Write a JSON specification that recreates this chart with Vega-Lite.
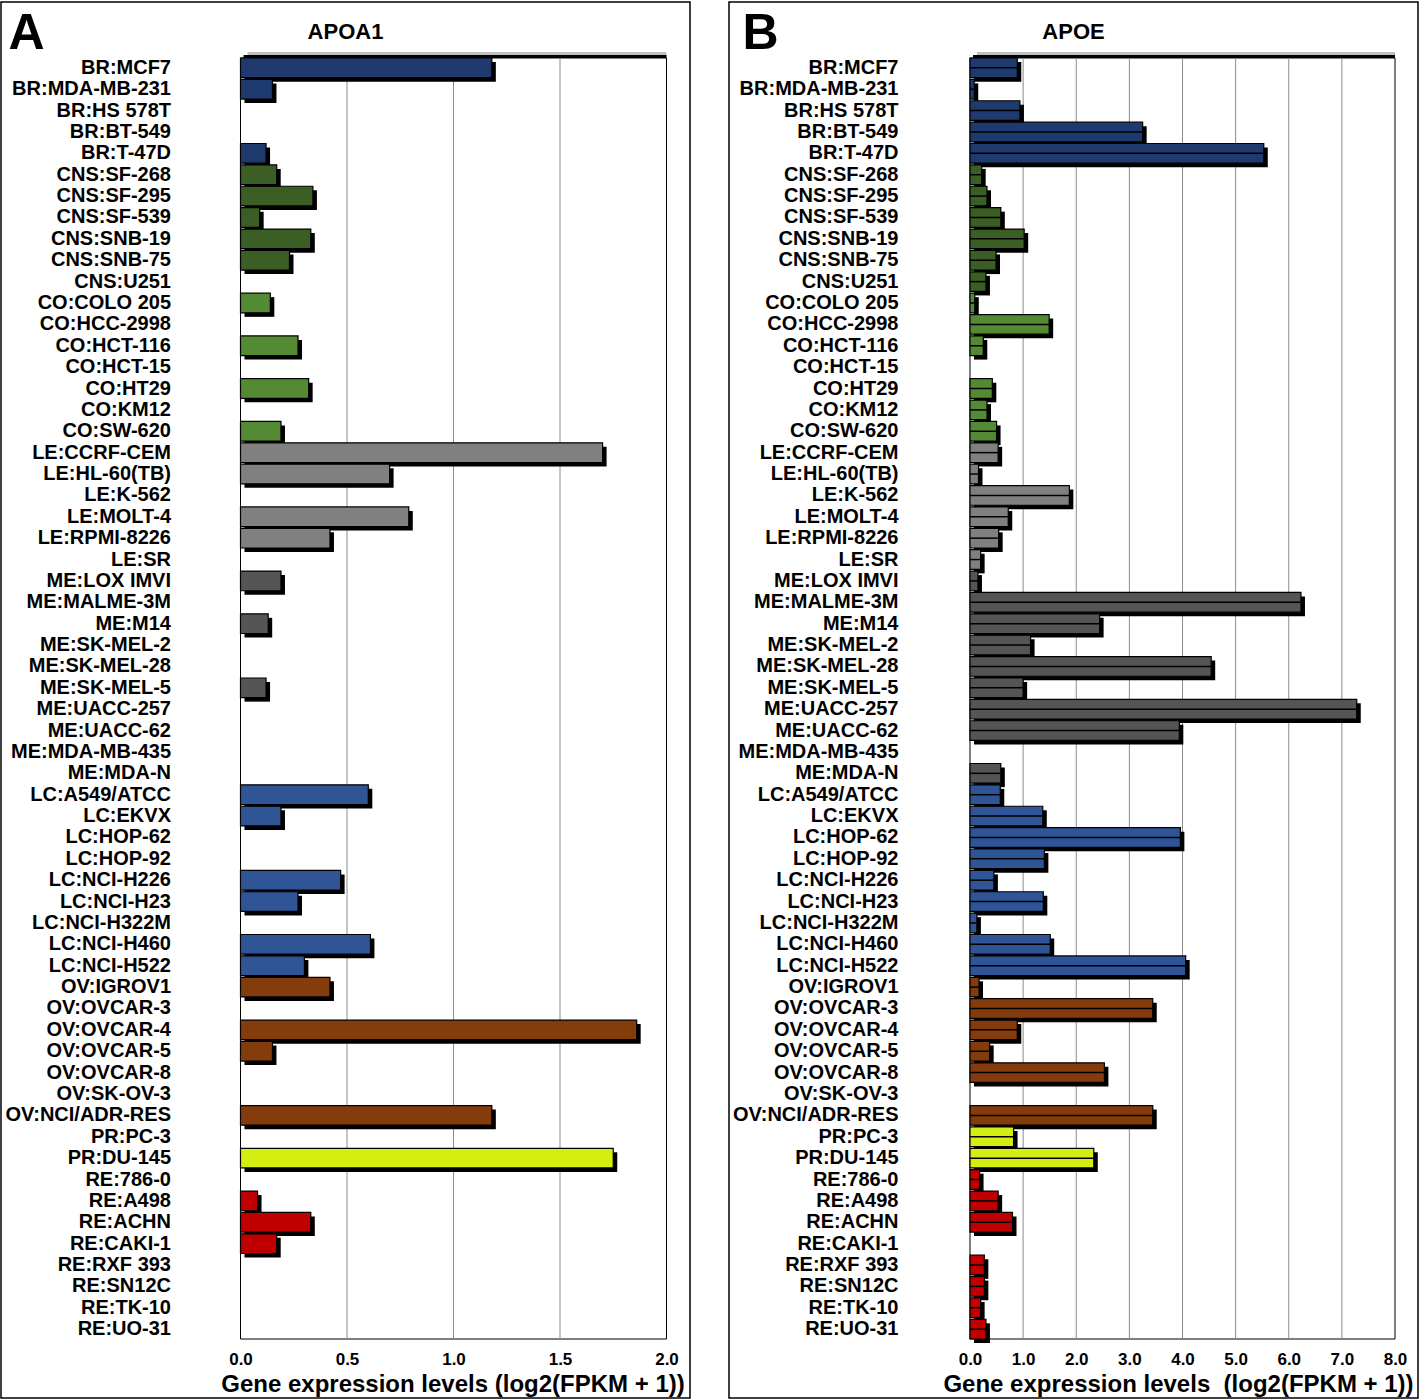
{
  "$schema": "https://vega.github.io/schema/vega-lite/v6.json",
  "background": "white",
  "padding": {"left": 0, "top": 1, "right": 0, "bottom": 0},
  "autosize": {"type": "pad"},
  "spacing": 37,
  "config": {
    "font": "Liberation Sans",
    "view": {"stroke": "#000", "strokeWidth": 1.5}
  },
  "datasets": {
    "cells": [
      {"name": "BR:MCF7", "group": "BR", "apoa1": 1.18, "apoe": 0.89},
      {"name": "BR:MDA-MB-231", "group": "BR", "apoa1": 0.15, "apoe": 0.08},
      {"name": "BR:HS 578T", "group": "BR", "apoa1": 0, "apoe": 0.94},
      {"name": "BR:BT-549", "group": "BR", "apoa1": 0, "apoe": 3.25},
      {"name": "BR:T-47D", "group": "BR", "apoa1": 0.12, "apoe": 5.53},
      {"name": "CNS:SF-268", "group": "CNS", "apoa1": 0.17, "apoe": 0.22},
      {"name": "CNS:SF-295", "group": "CNS", "apoa1": 0.34, "apoe": 0.32},
      {"name": "CNS:SF-539", "group": "CNS", "apoa1": 0.09, "apoe": 0.58},
      {"name": "CNS:SNB-19", "group": "CNS", "apoa1": 0.33, "apoe": 1.02},
      {"name": "CNS:SNB-75", "group": "CNS", "apoa1": 0.23, "apoe": 0.49},
      {"name": "CNS:U251", "group": "CNS", "apoa1": 0, "apoe": 0.30},
      {"name": "CO:COLO 205", "group": "CO", "apoa1": 0.14, "apoe": 0.09},
      {"name": "CO:HCC-2998", "group": "CO", "apoa1": 0, "apoe": 1.49},
      {"name": "CO:HCT-116", "group": "CO", "apoa1": 0.27, "apoe": 0.25},
      {"name": "CO:HCT-15", "group": "CO", "apoa1": 0, "apoe": 0},
      {"name": "CO:HT29", "group": "CO", "apoa1": 0.32, "apoe": 0.42},
      {"name": "CO:KM12", "group": "CO", "apoa1": 0, "apoe": 0.32},
      {"name": "CO:SW-620", "group": "CO", "apoa1": 0.19, "apoe": 0.50},
      {"name": "LE:CCRF-CEM", "group": "LE", "apoa1": 1.70, "apoe": 0.53},
      {"name": "LE:HL-60(TB)", "group": "LE", "apoa1": 0.70, "apoe": 0.16},
      {"name": "LE:K-562", "group": "LE", "apoa1": 0, "apoe": 1.87},
      {"name": "LE:MOLT-4", "group": "LE", "apoa1": 0.79, "apoe": 0.72},
      {"name": "LE:RPMI-8226", "group": "LE", "apoa1": 0.42, "apoe": 0.54},
      {"name": "LE:SR", "group": "LE", "apoa1": 0, "apoe": 0.20},
      {"name": "ME:LOX IMVI", "group": "ME", "apoa1": 0.19, "apoe": 0.15},
      {"name": "ME:MALME-3M", "group": "ME", "apoa1": 0, "apoe": 6.23},
      {"name": "ME:M14", "group": "ME", "apoa1": 0.13, "apoe": 2.44},
      {"name": "ME:SK-MEL-2", "group": "ME", "apoa1": 0, "apoe": 1.14},
      {"name": "ME:SK-MEL-28", "group": "ME", "apoa1": 0, "apoe": 4.54},
      {"name": "ME:SK-MEL-5", "group": "ME", "apoa1": 0.12, "apoe": 1.00},
      {"name": "ME:UACC-257", "group": "ME", "apoa1": 0, "apoe": 7.28},
      {"name": "ME:UACC-62", "group": "ME", "apoa1": 0, "apoe": 3.94},
      {"name": "ME:MDA-MB-435", "group": "ME", "apoa1": 0, "apoe": 0},
      {"name": "ME:MDA-N", "group": "ME", "apoa1": 0, "apoe": 0.58},
      {"name": "LC:A549/ATCC", "group": "LC", "apoa1": 0.60, "apoe": 0.57},
      {"name": "LC:EKVX", "group": "LC", "apoa1": 0.19, "apoe": 1.37},
      {"name": "LC:HOP-62", "group": "LC", "apoa1": 0, "apoe": 3.96},
      {"name": "LC:HOP-92", "group": "LC", "apoa1": 0, "apoe": 1.40},
      {"name": "LC:NCI-H226", "group": "LC", "apoa1": 0.47, "apoe": 0.45},
      {"name": "LC:NCI-H23", "group": "LC", "apoa1": 0.27, "apoe": 1.38},
      {"name": "LC:NCI-H322M", "group": "LC", "apoa1": 0, "apoe": 0.13},
      {"name": "LC:NCI-H460", "group": "LC", "apoa1": 0.61, "apoe": 1.51},
      {"name": "LC:NCI-H522", "group": "LC", "apoa1": 0.30, "apoe": 4.06},
      {"name": "OV:IGROV1", "group": "OV", "apoa1": 0.42, "apoe": 0.17},
      {"name": "OV:OVCAR-3", "group": "OV", "apoa1": 0, "apoe": 3.44},
      {"name": "OV:OVCAR-4", "group": "OV", "apoa1": 1.86, "apoe": 0.89},
      {"name": "OV:OVCAR-5", "group": "OV", "apoa1": 0.15, "apoe": 0.37},
      {"name": "OV:OVCAR-8", "group": "OV", "apoa1": 0, "apoe": 2.53},
      {"name": "OV:SK-OV-3", "group": "OV", "apoa1": 0, "apoe": 0},
      {"name": "OV:NCI/ADR-RES", "group": "OV", "apoa1": 1.18, "apoe": 3.44},
      {"name": "PR:PC-3", "group": "PR", "apoa1": 0, "apoe": 0.82},
      {"name": "PR:DU-145", "group": "PR", "apoa1": 1.75, "apoe": 2.33},
      {"name": "RE:786-0", "group": "RE", "apoa1": 0, "apoe": 0.18},
      {"name": "RE:A498", "group": "RE", "apoa1": 0.08, "apoe": 0.53},
      {"name": "RE:ACHN", "group": "RE", "apoa1": 0.33, "apoe": 0.80},
      {"name": "RE:CAKI-1", "group": "RE", "apoa1": 0.17, "apoe": 0},
      {"name": "RE:RXF 393", "group": "RE", "apoa1": 0, "apoe": 0.27},
      {"name": "RE:SN12C", "group": "RE", "apoa1": 0, "apoe": 0.27},
      {"name": "RE:TK-10", "group": "RE", "apoa1": 0, "apoe": 0.20},
      {"name": "RE:UO-31", "group": "RE", "apoa1": 0, "apoe": 0.30}
    ]
  },
  "hconcat": [
    {
      "width": 689,
      "height": 1396,
      "title": {"text": "APOA1", "fontSize": 22, "fontWeight": "bold", "color": "#000", "anchor": "middle", "frame": "group", "baseline": "alphabetic", "offset": -59},
      "resolve": {"scale": {"y": "independent"}, "axis": {"y": "independent"}},
      "layer": [
        {
          "layer": [
            {
              "data": {"values": [{"lo": 0, "hi": 2, "top": 0, "bottom": 1}]},
              "mark": {"type": "rect", "fill": "#000", "opacity": 0.25, "xOffset": 7, "yOffset": -6},
              "encoding": {
                "x": {"field": "lo", "type": "quantitative"},
                "x2": {"field": "hi"},
                "y": {"field": "top", "type": "quantitative", "scale": {"domain": [0, 1], "range": [56, 1337], "nice": false, "zero": false}, "axis": null},
                "y2": {"field": "bottom"}
              }
            },
            {
              "data": {"values": [{"lo": 0, "hi": 2, "top": 0, "bottom": 1}]},
              "mark": {"type": "rect", "fill": "#000", "xOffset": 3, "yOffset": -3},
              "encoding": {
                "x": {"field": "lo", "type": "quantitative"},
                "x2": {"field": "hi"},
                "y": {"field": "top", "type": "quantitative", "axis": null},
                "y2": {"field": "bottom"}
              }
            },
            {
              "data": {"values": [{"lo": 0, "hi": 2, "top": 0, "bottom": 1}]},
              "mark": {"type": "rect", "fill": "#fff", "stroke": "#000", "strokeWidth": 1},
              "encoding": {
                "x": {"field": "lo", "type": "quantitative"},
                "x2": {"field": "hi"},
                "y": {"field": "top", "type": "quantitative", "axis": null},
                "y2": {"field": "bottom"}
              }
            },
            {
              "data": {"values": [{"g": 0.5, "top": 0, "bottom": 1}, {"g": 1.0, "top": 0, "bottom": 1}, {"g": 1.5, "top": 0, "bottom": 1}]},
              "mark": {"type": "rule", "stroke": "#8c8c8c", "strokeWidth": 1},
              "encoding": {
                "x": {"field": "g", "type": "quantitative"},
                "y": {"field": "top", "type": "quantitative", "axis": null},
                "y2": {"field": "bottom"}
              }
            }
          ]
        },
        {
          "data": {"name": "cells"},
          "transform": [{"filter": "datum.apoa1 > 0"}],
          "layer": [
            {
              "mark": {"type": "bar", "fill": "#000", "xOffset": 4, "yOffset": 4},
              "encoding": {
                "x": {"field": "apoa1", "type": "quantitative"},
                "y": {"field": "name", "type": "nominal"}
              }
            },
            {
              "mark": {"type": "bar", "stroke": "#000", "strokeWidth": 1.2},
              "encoding": {
                "x": {
                  "field": "apoa1", "type": "quantitative",
                  "scale": {"domain": [0, 2], "range": [239.5, 665.5], "nice": false, "zero": false},
                  "axis": {"orient": "bottom", "offset": -59, "zindex": 2, "domain": false, "ticks": false, "tickSize": 0, "grid": false, "values": [0, 0.5, 1, 1.5, 2], "format": ".1f", "labelPadding": 12, "labelFontSize": 17, "labelFontWeight": "bold", "labelColor": "#000", "labelFlush": false, "labelOverlap": false, "title": "Gene expression levels (log2(FPKM + 1))", "titleFontSize": 24, "titleFontWeight": "bold", "titleColor": "#000", "titleAlign": "center", "titleBaseline": "alphabetic", "titleX": 451.5, "titleY": 52}
                },
                "y": {
                  "field": "name", "type": "nominal",
                  "scale": {"domain": ["BR:MCF7","BR:MDA-MB-231","BR:HS 578T","BR:BT-549","BR:T-47D","CNS:SF-268","CNS:SF-295","CNS:SF-539","CNS:SNB-19","CNS:SNB-75","CNS:U251","CO:COLO 205","CO:HCC-2998","CO:HCT-116","CO:HCT-15","CO:HT29","CO:KM12","CO:SW-620","LE:CCRF-CEM","LE:HL-60(TB)","LE:K-562","LE:MOLT-4","LE:RPMI-8226","LE:SR","ME:LOX IMVI","ME:MALME-3M","ME:M14","ME:SK-MEL-2","ME:SK-MEL-28","ME:SK-MEL-5","ME:UACC-257","ME:UACC-62","ME:MDA-MB-435","ME:MDA-N","LC:A549/ATCC","LC:EKVX","LC:HOP-62","LC:HOP-92","LC:NCI-H226","LC:NCI-H23","LC:NCI-H322M","LC:NCI-H460","LC:NCI-H522","OV:IGROV1","OV:OVCAR-3","OV:OVCAR-4","OV:OVCAR-5","OV:OVCAR-8","OV:SK-OV-3","OV:NCI/ADR-RES","PR:PC-3","PR:DU-145","RE:786-0","RE:A498","RE:ACHN","RE:CAKI-1","RE:RXF 393","RE:SN12C","RE:TK-10","RE:UO-31"], "range": [56, 1337], "paddingInner": 0.08, "paddingOuter": 0},
                  "axis": {"orient": "left", "offset": -239.5, "zindex": 2, "domain": false, "ticks": false, "tickSize": 0, "grid": false, "labelPadding": 70, "labelFontSize": 20, "labelFontWeight": "bold", "labelColor": "#000", "labelLimit": 300, "labelOverlap": false, "title": "A", "titleAngle": 0, "titleFontSize": 50, "titleFontWeight": "bold", "titleColor": "#000", "titleAlign": "left", "titleBaseline": "alphabetic", "titleX": -232.5, "titleY": 46}
                },
                "color": {
                  "field": "group", "type": "nominal",
                  "scale": {"domain": ["BR","CNS","CO","LE","ME","LC","OV","PR","RE"], "range": ["#1f3a6f","#3a5e24","#558a35","#808080","#555555","#2f5597","#843c0c","#d4ee12","#c00000"]},
                  "legend": null
                }
              }
            }
          ]
        }
      ]
    },
    {
      "width": 689,
      "height": 1396,
      "title": {"text": "APOE", "fontSize": 22, "fontWeight": "bold", "color": "#000", "anchor": "middle", "frame": "group", "baseline": "alphabetic", "offset": -59},
      "resolve": {"scale": {"y": "independent"}, "axis": {"y": "independent"}},
      "layer": [
        {
          "layer": [
            {
              "data": {"values": [{"lo": 0, "hi": 8, "top": 0, "bottom": 1}]},
              "mark": {"type": "rect", "fill": "#000", "opacity": 0.25, "xOffset": 7, "yOffset": -6},
              "encoding": {
                "x": {"field": "lo", "type": "quantitative"},
                "x2": {"field": "hi"},
                "y": {"field": "top", "type": "quantitative", "scale": {"domain": [0, 1], "range": [56, 1337], "nice": false, "zero": false}, "axis": null},
                "y2": {"field": "bottom"}
              }
            },
            {
              "data": {"values": [{"lo": 0, "hi": 8, "top": 0, "bottom": 1}]},
              "mark": {"type": "rect", "fill": "#000", "xOffset": 3, "yOffset": -3},
              "encoding": {
                "x": {"field": "lo", "type": "quantitative"},
                "x2": {"field": "hi"},
                "y": {"field": "top", "type": "quantitative", "axis": null},
                "y2": {"field": "bottom"}
              }
            },
            {
              "data": {"values": [{"lo": 0, "hi": 8, "top": 0, "bottom": 1}]},
              "mark": {"type": "rect", "fill": "#fff", "stroke": "#000", "strokeWidth": 1},
              "encoding": {
                "x": {"field": "lo", "type": "quantitative"},
                "x2": {"field": "hi"},
                "y": {"field": "top", "type": "quantitative", "axis": null},
                "y2": {"field": "bottom"}
              }
            },
            {
              "data": {"values": [{"g": 1, "top": 0, "bottom": 1}, {"g": 2, "top": 0, "bottom": 1}, {"g": 3, "top": 0, "bottom": 1}, {"g": 4, "top": 0, "bottom": 1}, {"g": 5, "top": 0, "bottom": 1}, {"g": 6, "top": 0, "bottom": 1}, {"g": 7, "top": 0, "bottom": 1}]},
              "mark": {"type": "rule", "stroke": "#8c8c8c", "strokeWidth": 1},
              "encoding": {
                "x": {"field": "g", "type": "quantitative"},
                "y": {"field": "top", "type": "quantitative", "axis": null},
                "y2": {"field": "bottom"}
              }
            }
          ]
        },
        {
          "data": {"name": "cells"},
          "transform": [{"filter": "datum.apoe > 0"}],
          "layer": [
            {
              "mark": {"type": "bar", "fill": "#000", "xOffset": 4, "yOffset": 4},
              "encoding": {
                "x": {"field": "apoe", "type": "quantitative"},
                "y": {"field": "name", "type": "nominal"}
              }
            },
            {
              "mark": {"type": "bar", "stroke": "#000", "strokeWidth": 1.2},
              "encoding": {
                "x": {
                  "field": "apoe", "type": "quantitative",
                  "scale": {"domain": [0, 8], "range": [241, 666], "nice": false, "zero": false},
                  "axis": {"orient": "bottom", "offset": -59, "zindex": 2, "domain": false, "ticks": false, "tickSize": 0, "grid": false, "values": [0, 1, 2, 3, 4, 5, 6, 7, 8], "format": ".1f", "labelPadding": 12, "labelFontSize": 17, "labelFontWeight": "bold", "labelColor": "#000", "labelFlush": false, "labelOverlap": false, "title": "Gene expression levels\u00a0 (log2(FPKM + 1))", "titleFontSize": 24, "titleFontWeight": "bold", "titleColor": "#000", "titleAlign": "center", "titleBaseline": "alphabetic", "titleX": 449, "titleY": 52}
                },
                "y": {
                  "field": "name", "type": "nominal",
                  "scale": {"domain": ["BR:MCF7","BR:MDA-MB-231","BR:HS 578T","BR:BT-549","BR:T-47D","CNS:SF-268","CNS:SF-295","CNS:SF-539","CNS:SNB-19","CNS:SNB-75","CNS:U251","CO:COLO 205","CO:HCC-2998","CO:HCT-116","CO:HCT-15","CO:HT29","CO:KM12","CO:SW-620","LE:CCRF-CEM","LE:HL-60(TB)","LE:K-562","LE:MOLT-4","LE:RPMI-8226","LE:SR","ME:LOX IMVI","ME:MALME-3M","ME:M14","ME:SK-MEL-2","ME:SK-MEL-28","ME:SK-MEL-5","ME:UACC-257","ME:UACC-62","ME:MDA-MB-435","ME:MDA-N","LC:A549/ATCC","LC:EKVX","LC:HOP-62","LC:HOP-92","LC:NCI-H226","LC:NCI-H23","LC:NCI-H322M","LC:NCI-H460","LC:NCI-H522","OV:IGROV1","OV:OVCAR-3","OV:OVCAR-4","OV:OVCAR-5","OV:OVCAR-8","OV:SK-OV-3","OV:NCI/ADR-RES","PR:PC-3","PR:DU-145","RE:786-0","RE:A498","RE:ACHN","RE:CAKI-1","RE:RXF 393","RE:SN12C","RE:TK-10","RE:UO-31"], "range": [56, 1337], "paddingInner": 0.08, "paddingOuter": 0},
                  "axis": {"orient": "left", "offset": -241, "zindex": 2, "domain": false, "ticks": false, "tickSize": 0, "grid": false, "labelPadding": 72, "labelFontSize": 20, "labelFontWeight": "bold", "labelColor": "#000", "labelLimit": 300, "labelOverlap": false, "title": "B", "titleAngle": 0, "titleFontSize": 50, "titleFontWeight": "bold", "titleColor": "#000", "titleAlign": "left", "titleBaseline": "alphabetic", "titleX": -228, "titleY": 46}
                },
                "color": {
                  "field": "group", "type": "nominal",
                  "scale": {"domain": ["BR","CNS","CO","LE","ME","LC","OV","PR","RE"], "range": ["#1f3a6f","#3a5e24","#558a35","#808080","#555555","#2f5597","#843c0c","#d4ee12","#c00000"]},
                  "legend": null
                }
              }
            },
            {
              "mark": {"type": "bar", "fill": "#000", "height": 1.5},
              "encoding": {
                "x": {"field": "apoe", "type": "quantitative"},
                "y": {"field": "name", "type": "nominal"}
              }
            }
          ]
        }
      ]
    }
  ]
}
